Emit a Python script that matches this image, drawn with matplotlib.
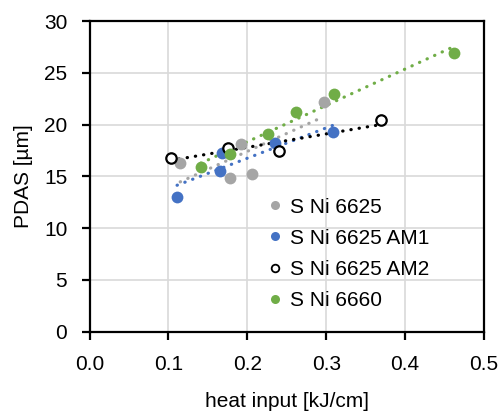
import matplotlib
matplotlib.use("Agg")
import matplotlib.pyplot as plt
import numpy as np

plt.rcParams['font.family'] = ['Liberation Sans', 'DejaVu Sans']

# heat input [kJ/cm] and PDAS [um]
x_6625 = [0.115, 0.178, 0.206, 0.192, 0.297]
y_6625 = [16.3, 14.85, 15.2, 18.1, 22.2]

x_am1 = [0.111, 0.165, 0.168, 0.235, 0.309]
y_am1 = [13.05, 15.55, 17.3, 18.2, 19.3]

x_am2 = [0.103, 0.175, 0.240, 0.370]
y_am2 = [16.8, 17.7, 17.45, 20.4]

x_6660 = [0.141, 0.178, 0.226, 0.262, 0.310, 0.462]
y_6660 = [15.9, 17.2, 19.1, 21.2, 23.0, 26.95]

labels = ['S Ni 6625', 'S Ni 6625 AM1', 'S Ni 6625 AM2', 'S Ni 6660']
colors = ['#a5a5a5', '#4472c4', '#000000', '#70ad47']

fig = plt.figure(figsize=(5, 4.13), dpi=100)
ax = fig.add_axes([0.179, 0.197, 0.789, 0.752])

series = [(x_6625, y_6625), (x_am1, y_am1), (x_am2, y_am2), (x_6660, y_6660)]
for (xs, ys), lab, c in zip(series, labels, colors):
    xs = np.array(xs)
    ys = np.array(ys)
    # linear trend line, dotted
    k, b = np.polyfit(xs, ys, 1)
    xt = np.array([xs.min(), xs.max()])
    ax.plot(xt, k * xt + b, color=c, lw=2.3, linestyle=(0, (0.1, 2.5)),
            dash_capstyle='round', zorder=2)
    if lab == 'S Ni 6625 AM2':
        ax.plot(xs, ys, 'o', ms=7.5, mfc='white', mec='black', mew=1.6, zorder=3)
        ax.plot([], [], 'o', ms=5.5, mfc='white', mec='black', mew=1.3, label=lab)
    else:
        ax.plot(xs, ys, 'o', ms=8.5, color=c, mec='none', zorder=3)
        ax.plot([], [], 'o', ms=6.5, color=c, mec='none', label=lab)

ax.set_xlim(0, 0.5)
ax.set_ylim(0, 30)
ax.set_xticks(np.arange(0, 0.51, 0.1))
ax.set_yticks(np.arange(0, 31, 5))
ax.set_xticklabels(['0.0', '0.1', '0.2', '0.3', '0.4', '0.5'])
ax.grid(True, color='#d9d9d9', lw=1.2)
ax.set_axisbelow(True)
for s in ax.spines.values():
    s.set_linewidth(1.6)
    s.set_color('black')
ax.tick_params(direction='out', length=6, width=1.6, labelsize=15)
ax.tick_params(axis='x', pad=11)
ax.tick_params(axis='y', pad=10)

ax.set_xlabel('heat input [kJ/cm]', fontsize=15, labelpad=13)
ax.set_ylabel('PDAS [µm]', fontsize=15, labelpad=8)

ax.legend(loc='lower left', bbox_to_anchor=(0.455, 0.07), frameon=False,
          fontsize=15, handlelength=0.6, handletextpad=0.4,
          labelspacing=0.58, borderaxespad=0, borderpad=0)

fig.savefig('out.png', dpi=100)
